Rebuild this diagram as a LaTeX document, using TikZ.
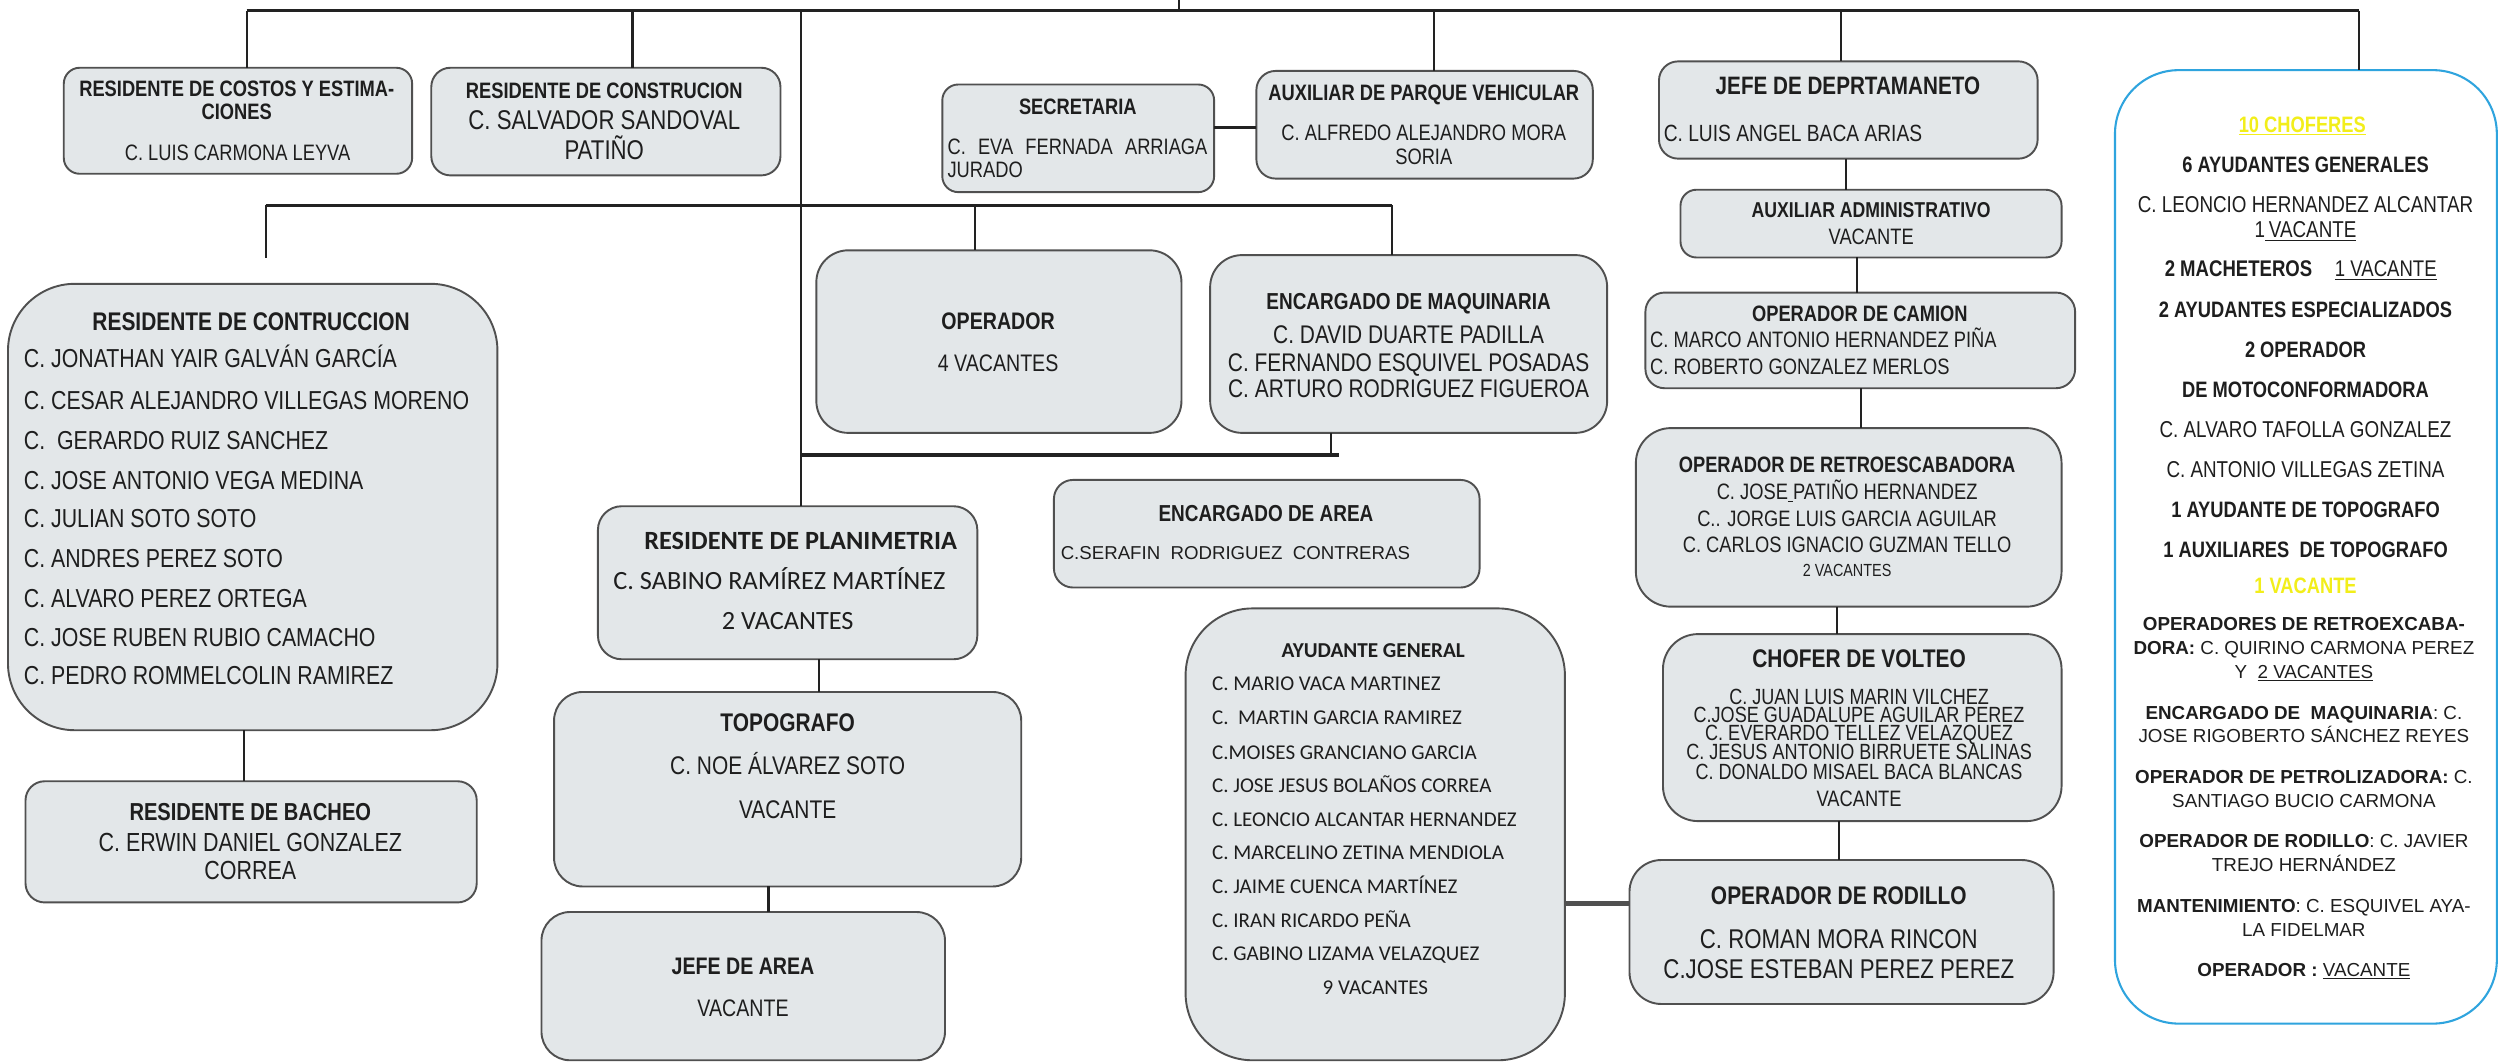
\documentclass[tikz,border=0pt]{standalone}
\usepackage{fontspec}
\setmainfont{Liberation Sans}
\newfontfamily\nar[FakeStretch=0.82]{Liberation Sans}
\newfontfamily\ari{Liberation Sans}
\newfontfamily\calib{Carlito}
\definecolor{boxfill}{HTML}{E3E7E9}
\definecolor{boxline}{HTML}{505050}
\definecolor{ink}{HTML}{1E1E1E}
\definecolor{bluebd}{HTML}{2FA4DE}
\definecolor{yel}{HTML}{F2EE1A}
\definecolor{wire}{HTML}{222222}
\newcommand\Bx[6]{\node[box, rounded corners=#6, minimum width={#4-#2}, minimum height={#5-#3}] (#1) at (#2,#3) {};}
\newcommand\Tx[7]{\node[#2,anchor=#3] (#1) at (#4,{#5+0.36*#6}) {\fontsize{#6}{#6}\selectfont #7};}
\begin{document}
\begin{tikzpicture}[x=1pt,y=-1pt,
  box/.style={draw=boxline, fill=boxfill, line width=1.2pt, inner sep=0pt, outer sep=0pt, anchor=north west},
  bluebox/.style={box, draw=bluebd, fill=white, line width=1.3pt},
  txt/.style={inner sep=0pt, outer sep=0pt, text=ink},
  nr/.style={txt, font=\nar},
  nb/.style={txt, font=\nar\bfseries},
  ar/.style={txt, font=\ari},
  cr/.style={txt, font=\calib},
  cb/.style={txt, font=\calib\bfseries},
  yb/.style={txt, font=\nar\bfseries, text=yel},
  wire/.style={draw=wire, line width=1.3pt},
  bus/.style={draw=wire, line width=2pt},
  thick link/.style={draw=boxline, line width=3pt}]
\useasboundingbox (0,0) rectangle (1568,666);
\fill[white] (0,0) rectangle (1568,666);

% ---------------- boxes ----------------
\Bx{costos}{40}{42.5}{258.5}{109}{10pt}
\Bx{constr}{270.5}{42.5}{489.5}{110}{12pt}
\Bx{secre}{591}{53}{761.5}{120.5}{10pt}
\Bx{auxpq}{788}{44.5}{999}{112}{12pt}
\Bx{jefed}{1040.5}{38.5}{1278}{99.5}{12pt}
\Bx{auxad}{1054}{119}{1293}{161.5}{10pt}
\node[bluebox, rounded corners=40pt, minimum width=239.5, minimum height=598] (blue) at (1326.5,44) {};
\Bx{contr}{5}{178}{312}{458}{42pt}
\Bx{oper}{512}{157}{741}{271.5}{20pt}
\Bx{encmaq}{759}{160}{1008}{271.5}{20pt}
\Bx{camion}{1032}{183.5}{1301.5}{243.5}{12pt}
\Bx{retro}{1026}{268.5}{1293}{380.5}{22pt}
\Bx{plan}{375}{317.5}{613}{413.5}{15pt}
\Bx{encarea}{661}{301}{928}{368.5}{12pt}
\Bx{ayud}{743.6}{381.6}{981.5}{665}{42pt}
\Bx{chofer}{1043}{397.7}{1293}{515}{22pt}
\Bx{topo}{347.5}{434}{640.5}{556}{18pt}
\Bx{bacheo}{16}{490}{299}{566}{12pt}
\Bx{jefea}{339.6}{572}{592.7}{665}{18pt}
\Bx{rodillo}{1022}{539.4}{1288}{629.7}{20pt}

% ---------------- connectors ----------------
\coordinate (top) at (739.5,0);
\coordinate (busL) at (154.7,6.7);
\coordinate (busR) at (1479.6,6.7);
\coordinate (busC) at (739.5,6.7);
\draw[bus] (busL) -- (busR);
\draw[wire] (top) -- (busC);
\draw[wire] (busL) -- (busL |- costos.north);
\draw[wire] (396.7,6.7 |- busL) -- (396.7,0 |- constr.north);
\draw[wire] (502.2,0 |- busL) -- (502.2,0 |- plan.north);
\draw[wire] (899.6,0 |- busL) -- (899.6,0 |- auxpq.north);
\draw[wire] (1154.7,0 |- busL) -- (1154.7,0 |- jefed.north);
\draw[wire] (busR) -- (busR |- blue.north);
% second bus
\coordinate (bus2L) at (166.6,128.8);
\coordinate (bus2R) at (873,128.8);
\coordinate (contrstub) at (166.6,162);
\draw[bus] (bus2L) -- (bus2R);
\draw[wire] (bus2L) -- (contrstub);
\draw[wire] (611.3,0 |- bus2L) -- (611.3,0 |- oper.north);
\draw[wire] (bus2R) -- (bus2R |- encmaq.north);
% secretaria - auxiliar de parque
\draw[bus] (0,79.9 -| secre.east) -- (0,79.9 -| auxpq.west);
% machinery bus
\coordinate (bus3L) at (502.2,285.4);
\coordinate (bus3R) at (840,285.4);
\draw[bus] (bus3L) -- (bus3R);
\draw[wire] (835,0 |- encmaq.south) -- (835,0 |- bus3R);
% planimetria chain
\draw[wire] (513.4,0 |- plan.south) -- (513.4,0 |- topo.north);
\draw[wire] (482,0 |- topo.south) -- (482,0 |- jefea.north);
% construccion -> bacheo
\draw[wire] (153,0 |- contr.south) -- (153,0 |- bacheo.north);
% department chain
\draw[wire] (1157.6,0 |- jefed.south) -- (1157.6,0 |- auxad.north);
\draw[wire] (1164.7,0 |- auxad.south) -- (1164.7,0 |- camion.north);
\draw[wire] (1167,0 |- camion.south) -- (1167,0 |- retro.north);
\draw[wire] (1152,0 |- retro.south) -- (1152,0 |- chofer.north);
\draw[wire] (1153.6,0 |- chofer.south) -- (1153.6,0 |- rodillo.north);
\draw[thick link] (0,566.6 -| ayud.east) -- (0,566.6 -| rodillo.west);

% ---------------- texts ----------------
\Tx{a1}{nb}{base}{148.5}{55.4}{14}{RESIDENTE DE COSTOS Y ESTIMA-}
\Tx{a2}{nb}{base}{148.5}{70}{14}{CIONES}
\Tx{a3}{nr}{base}{149}{95.8}{14}{C. LUIS CARMONA LEYVA}

\Tx{b1}{nb}{base}{379}{57}{14}{RESIDENTE DE CONSTRUCION}
\Tx{b2}{nr}{base}{379}{75.3}{17}{C. SALVADOR SANDOVAL}
\Tx{b3}{nr}{base}{379}{94.1}{17}{PATIÑO}

\Tx{c1}{nb}{base}{676}{66.5}{14}{SECRETARIA}
\Tx{c2}{nr}{base west}{594.3}{92}{14}{\makebox[163pt][s]{C. EVA FERNADA ARRIAGA}}
\Tx{c3}{nr}{base west}{594.3}{106.6}{14}{JURADO}

\Tx{d1}{nb}{base}{893}{58}{14}{AUXILIAR DE PARQUE VEHICULAR}
\Tx{d2}{nr}{base}{893}{83}{14}{C. ALFREDO ALEJANDRO MORA}
\Tx{d3}{nr}{base}{893}{98}{14}{SORIA}

\Tx{e1}{nb}{base}{1159}{53.3}{15.8}{JEFE DE DEPRTAMANETO}
\Tx{e2}{nr}{base west}{1043.5}{83.6}{14.7}{C. LUIS ANGEL BACA ARIAS}

\Tx{f1}{nb}{base}{1173.6}{131.3}{13.5}{AUXILIAR ADMINISTRATIVO}
\Tx{f2}{nr}{base}{1173.6}{148.4}{14}{VACANTE}

% blue box
\Tx{g1}{yb}{base}{1444}{77.8}{14}{\underline{10 CHOFERES}}
\Tx{g2}{nb}{base}{1446}{102.9}{14}{6 AYUDANTES GENERALES}
\Tx{g3}{nr}{base}{1446}{128}{14.4}{C. LEONCIO HERNANDEZ ALCANTAR}
\Tx{g4}{nr}{base}{1446}{143.8}{14.4}{1\underline{\,VACANTE}}
\Tx{g5}{nr}{base}{1443}{168.3}{14.2}{\textbf{2 MACHETEROS}\quad\underline{1 VACANTE}}
\Tx{g6}{nb}{base}{1446}{193.9}{14}{2 AYUDANTES ESPECIALIZADOS}
\Tx{g7}{nb}{base}{1446}{219.2}{14}{2 OPERADOR}
\Tx{g8}{nb}{base}{1446}{244}{14}{DE MOTOCONFORMADORA}
\Tx{g9}{nr}{base}{1446}{269.2}{14.4}{C. ALVARO TAFOLLA GONZALEZ}
\Tx{g10}{nr}{base}{1446}{294.5}{14.4}{C. ANTONIO VILLEGAS ZETINA}
\Tx{g11}{nb}{base}{1446}{319.6}{14}{1 AYUDANTE DE TOPOGRAFO}
\Tx{g12}{nb}{base}{1446}{344.9}{14}{1 AUXILIARES\ \ DE TOPOGRAFO}
\Tx{g13}{yb}{base}{1446}{367.5}{14}{1 VACANTE}
\Tx{g14}{ar}{base}{1445}{391.5}{11.8}{\textbf{OPERADORES DE RETROEXCABA-}}
\Tx{g15}{ar}{base}{1445}{406}{11.8}{\textbf{DORA:} C. QUIRINO CARMONA PEREZ}
\Tx{g16}{ar}{base}{1445}{421}{11.8}{Y\ \ \underline{2 VACANTES}}
\Tx{g17}{ar}{base}{1445}{447}{11.8}{\textbf{ENCARGADO DE\ \ MAQUINARIA}: C.}
\Tx{g18}{ar}{base}{1445}{461.5}{11.8}{JOSE RIGOBERTO SÁNCHEZ REYES}
\Tx{g19}{ar}{base}{1445}{487}{11.8}{\textbf{OPERADOR DE PETROLIZADORA:} C.}
\Tx{g20}{ar}{base}{1445}{502}{11.8}{SANTIAGO BUCIO CARMONA}
\Tx{g21}{ar}{base}{1445}{527}{11.8}{\textbf{OPERADOR DE RODILLO}: C. JAVIER}
\Tx{g22}{ar}{base}{1445}{542.5}{11.8}{TREJO HERNÁNDEZ}
\Tx{g23}{ar}{base}{1445}{568}{11.8}{\textbf{MANTENIMIENTO}: C. ESQUIVEL AYA-}
\Tx{g24}{ar}{base}{1445}{583}{11.8}{LA FIDELMAR}
\Tx{g25}{ar}{base}{1445}{608}{11.8}{\textbf{OPERADOR :} \underline{VACANTE}}

% residente de contruccion
\Tx{h0}{nb}{base}{157.5}{201.7}{16}{RESIDENTE DE CONTRUCCION}
\Tx{h1}{nr}{base west}{15}{224.7}{16.3}{C. JONATHAN YAIR GALVÁN GARCÍA}
\Tx{h2}{nr}{base west}{15}{250.9}{16.3}{C. CESAR ALEJANDRO VILLEGAS MORENO}
\Tx{h3}{nr}{base west}{15}{276}{16.3}{C.\ \ GERARDO RUIZ SANCHEZ}
\Tx{h4}{nr}{base west}{15}{301}{16.3}{C. JOSE ANTONIO VEGA MEDINA}
\Tx{h5}{nr}{base west}{15}{325}{16.3}{C. JULIAN SOTO SOTO}
\Tx{h6}{nr}{base west}{15}{350.2}{16.3}{C. ANDRES PEREZ SOTO}
\Tx{h7}{nr}{base west}{15}{375.3}{16.3}{C. ALVARO PEREZ ORTEGA}
\Tx{h8}{nr}{base west}{15}{399.3}{16.3}{C. JOSE RUBEN RUBIO CAMACHO}
\Tx{h9}{nr}{base west}{15}{423.4}{16.3}{C. PEDRO ROMMELCOLIN RAMIREZ}

% operador
\Tx{i1}{nb}{base}{626}{201.3}{15}{OPERADOR}
\Tx{i2}{nr}{base}{626}{227.5}{15}{4 VACANTES}

% encargado de maquinaria
\Tx{j1}{nb}{base}{883.5}{189}{14.5}{ENCARGADO DE MAQUINARIA}
\Tx{j2}{nr}{base}{883.5}{209.5}{16}{C. DAVID DUARTE PADILLA}
\Tx{j3}{nr}{base}{883.5}{227}{16}{C. FERNANDO ESQUIVEL POSADAS}
\Tx{j4}{nr}{base}{883.5}{243.5}{16}{C. ARTURO RODRIGUEZ FIGUEROA}

% operador de camion
\Tx{k1}{nb}{base}{1166.5}{196.5}{14}{OPERADOR DE CAMION}
\Tx{k2}{nr}{base west}{1035}{213}{14}{C. MARCO ANTONIO HERNANDEZ PIÑA}
\Tx{k3}{nr}{base west}{1035}{229.7}{14}{C. ROBERTO GONZALEZ MERLOS}

% retroescabadora
\Tx{l1}{nb}{base}{1158.5}{291}{14}{OPERADOR DE RETROESCABADORA}
\Tx{l2}{nr}{base}{1158.5}{308.2}{14}{C. JOSE\underline{\ }PATIÑO HERNANDEZ}
\Tx{l3}{nr}{base}{1158.5}{325.3}{14}{C.. JORGE LUIS GARCIA AGUILAR}
\Tx{l4}{nr}{base}{1158.5}{341.6}{14}{C. CARLOS IGNACIO GUZMAN TELLO}
\Tx{l5}{nr}{base}{1158.5}{357.6}{11}{2 VACANTES}

% planimetria
\Tx{m1}{cb}{base}{502.2}{338.7}{16.5}{RESIDENTE DE PLANIMETRIA}
\Tx{m2}{cr}{base}{488.8}{363.8}{16.5}{C. SABINO RAMÍREZ MARTÍNEZ}
\Tx{m3}{cr}{base}{494}{388.9}{16.5}{2 VACANTES}

% encargado de area
\Tx{n1}{nb}{base}{794}{322}{14.5}{ENCARGADO DE AREA}
\Tx{n2}{ar}{base west}{665.3}{347}{11.7}{C.SERAFIN\ \ RODRIGUEZ\ \ CONTRERAS}

% ayudante general
\Tx{o0}{cb}{base}{861.3}{407.7}{13.3}{AYUDANTE GENERAL}
\Tx{o1}{cr}{base west}{760.2}{428.5}{13.2}{C. MARIO VACA MARTINEZ}
\Tx{o2}{cr}{base west}{760.2}{449.8}{13.2}{C.\ \ MARTIN GARCIA RAMIREZ}
\Tx{o3}{cr}{base west}{760.2}{471.4}{13.2}{C.MOISES GRANCIANO GARCIA}
\Tx{o4}{cr}{base west}{760.2}{492.4}{13.2}{C. JOSE JESUS BOLAÑOS CORREA}
\Tx{o5}{cr}{base west}{760.2}{513.7}{13.2}{C. LEONCIO ALCANTAR HERNANDEZ}
\Tx{o6}{cr}{base west}{760.2}{534.5}{13.2}{C. MARCELINO ZETINA MENDIOLA}
\Tx{o7}{cr}{base west}{760.2}{555.7}{13.2}{C. JAIME CUENCA MARTÍNEZ}
\Tx{o8}{cr}{base west}{760.2}{577}{13.2}{C. IRAN RICARDO PEÑA}
\Tx{o9}{cr}{base west}{760.2}{597.9}{13.2}{C. GABINO LIZAMA VELAZQUEZ}
\Tx{o10}{cr}{base}{862.6}{619}{13.2}{9 VACANTES}

% chofer de volteo
\Tx{p0}{nb}{base}{1166}{413}{16}{CHOFER DE VOLTEO}
\Tx{p1}{nr}{base}{1166}{437}{13.8}{C. JUAN LUIS MARIN VILCHEZ}
\Tx{p2}{nr}{base}{1166}{448}{13.8}{C.JOSE GUADALUPE AGUILAR PEREZ}
\Tx{p3}{nr}{base}{1166}{459.5}{13.8}{C. EVERARDO TELLEZ VELAZQUEZ}
\Tx{p4}{nr}{base}{1166}{471.4}{13.8}{C. JESUS ANTONIO BIRRUETE SALINAS}
\Tx{p5}{nr}{base}{1166}{484}{13.8}{C. DONALDO MISAEL BACA BLANCAS}
\Tx{p6}{nr}{base}{1166}{500.6}{14}{VACANTE}

% topografo
\Tx{q1}{nb}{base}{494}{453}{16}{TOPOGRAFO}
\Tx{q2}{nr}{base}{494}{480}{16}{C. NOE ÁLVAREZ SOTO}
\Tx{q3}{nr}{base}{494}{507.6}{16}{VACANTE}

% jefe de area
\Tx{r1}{nb}{base}{466}{606}{15}{JEFE DE AREA}
\Tx{r2}{nr}{base}{466}{632}{15}{VACANTE}

% bacheo
\Tx{s1}{nb}{base}{157}{509}{15.4}{RESIDENTE DE BACHEO}
\Tx{s2}{nr}{base}{157}{528}{16.4}{C. ERWIN DANIEL GONZALEZ}
\Tx{s3}{nr}{base}{157}{546}{16.4}{CORREA}

% rodillo
\Tx{u1}{nb}{base}{1153.3}{561.3}{16}{OPERADOR DE RODILLO}
\Tx{u2}{nr}{base}{1153.3}{588.5}{17}{C. ROMAN MORA RINCON}
\Tx{u3}{nr}{base}{1153.3}{607.3}{17}{C.JOSE ESTEBAN PEREZ PEREZ}
\end{tikzpicture}
\end{document}
